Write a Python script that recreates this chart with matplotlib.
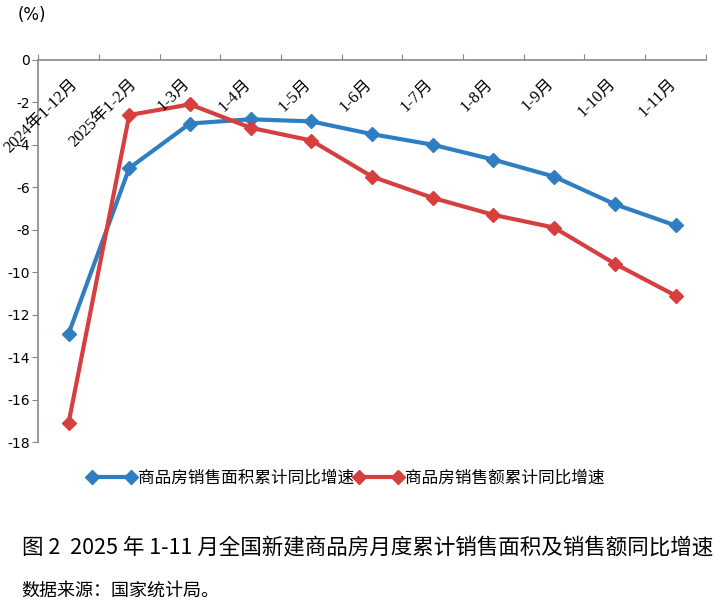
import matplotlib.pyplot as plt
import numpy as np

plt.rcParams['font.family'] = ['DejaVu Sans', 'Noto Sans CJK SC']

categories = ['2024年1-12月', '2025年1-2月', '1-3月', '1-4月', '1-5月', '1-6月',
              '1-7月', '1-8月', '1-9月', '1-10月', '1-11月']
area_growth = [-12.9, -5.1, -3.0, -2.8, -2.9, -3.5, -4.0, -4.7, -5.5, -6.8, -7.8]
value_growth = [-17.1, -2.6, -2.1, -3.2, -3.8, -5.5, -6.5, -7.3, -7.9, -9.6, -11.1]
series_names = ['商品房销售面积累计同比增速', '商品房销售额累计同比增速']
y_ticks = list(range(0, -19, -2))

fig = plt.figure(figsize=(7.21, 6.04), dpi=100)
ax = fig.add_axes([0.053, 0.268, 0.926, 0.633])

x = np.arange(len(categories))
ax.plot(x, area_growth, color='#2f7ec1', lw=3, marker='D', ms=7,
        label=series_names[0])
ax.plot(x, value_growth, color='#d63f3f', lw=3, marker='D', ms=7,
        label=series_names[1])

ax.set_xlim(-0.5, len(categories) - 0.5)
ax.set_ylim(-18, 0)
ax.set_yticks(y_ticks)
ax.set_yticklabels([str(v) for v in y_ticks], fontsize=10)

# category axis sits at y = 0 (top), labels hang below it
ax.xaxis.tick_top()
ax.set_xticks(np.arange(len(categories) + 1) - 0.5)
ax.tick_params(axis='x', labeltop=False, direction='out', length=4,
               color='#888888')
ax.tick_params(axis='y', direction='out', length=4, color='#888888', pad=2)
for i, lab in enumerate(categories):
    shift = 0.05 + 0.025 * (len(lab) - 4)
    ax.text(i + shift, -0.75, lab, rotation=45, ha='right', va='top',
            fontsize=12, family=['Liberation Serif', 'Noto Sans CJK SC'])

for s in ['right', 'bottom']:
    ax.spines[s].set_visible(False)
for s in ['top', 'left']:
    ax.spines[s].set_color('#888888')
    ax.spines[s].set_linewidth(1.2)

fig.text(0.025, 0.975, '(%)', fontsize=12, va='center')

fig.legend(loc='center', bbox_to_anchor=(0.48, 0.208), ncol=2, frameon=False,
           numpoints=2, handlelength=2.9, columnspacing=0.0, handletextpad=0.15,
           prop={'family': 'Noto Sans CJK SC', 'size': 12})

fig.text(0.03, 0.093, '图 2  2025 年 1-11 月全国新建商品房月度累计销售面积及销售额同比增速',
         fontsize=15.5, va='center', family=['Noto Sans CJK SC'])
fig.text(0.03, 0.022, '数据来源：国家统计局。', fontsize=13, va='center',
         family=['Noto Sans CJK SC'])

fig.savefig('out.png', dpi=100)
